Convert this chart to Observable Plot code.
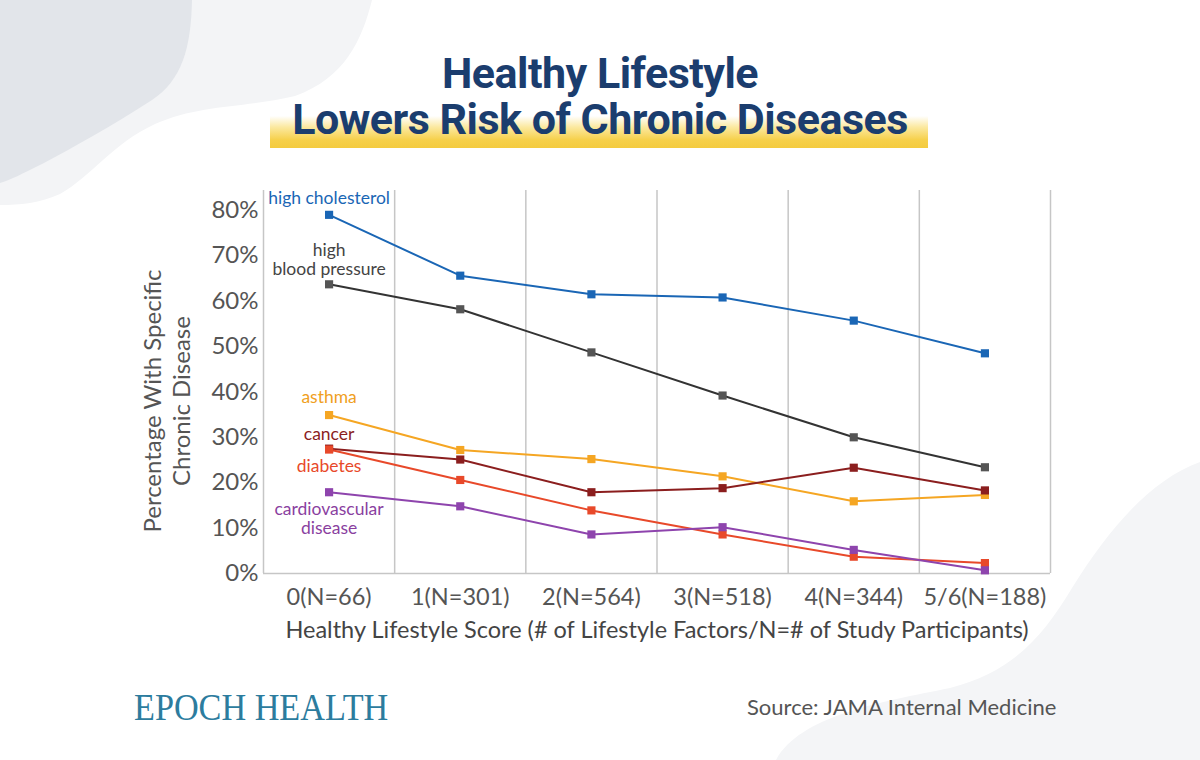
<!DOCTYPE html>
<html>
<head>
<meta charset="utf-8">
<script src="https://cdn.jsdelivr.net/npm/d3@7"></script>
<script src="https://cdn.jsdelivr.net/npm/@observablehq/plot@0.6"></script>
<style>
  html, body { margin: 0; padding: 0; background: #fff; }
  #page { position: relative; width: 1200px; height: 760px; overflow: hidden; background: #fff; font-family: Lato, "Noto Sans", sans-serif; }
  #deco { position: absolute; left: 0; top: 0; z-index: 0; }
  #bar { position: absolute; left: 270px; top: 116px; width: 658px; height: 32px; z-index: 1;
         background: linear-gradient(to bottom, rgba(248,214,80,0) 0%, rgba(248,214,80,0.55) 35%, #f6d04a 75%, #f4cb3e 100%); }
  #title { position: absolute; left: 0; top: 50px; width: 1200px; text-align: center; z-index: 2;
           font-family: Roboto, "Noto Sans", sans-serif; font-weight: 700; font-size: 43px; line-height: 46px;
           letter-spacing: -0.5px; color: #1b3d6e; }
  #chart { position: absolute; left: 0; top: 170px; z-index: 3; }
  #brand { position: absolute; left: 134px; top: 686px; z-index: 3; font-family: "Liberation Serif", "DejaVu Serif", serif;
           font-size: 38px; line-height: 42px; color: #2c7c9e; transform: scaleX(0.9); transform-origin: left center; white-space: nowrap; }
  #source { position: absolute; left: 747px; top: 694px; z-index: 3; font-family: Lato, sans-serif; font-size: 22px; line-height: 26px; color: #555; white-space: nowrap; }
</style>
</head>
<body>
<div id="page">
  <svg id="deco" width="1200" height="760">
    <path d="M190,0 L372,0 C362,40 345,78 295,96 C245,108 200,104 155,124 C112,144 92,176 60,194 C40,203 20,205 0,205 L0,0 Z" fill="#f3f4f6"/>
    <path d="M0,0 L192,0 C191,48 182,80 152,100 C112,126 72,148 42,164 C22,174 10,180 0,183 Z" fill="#e2e5ea"/>
    <path d="M1200,462 C1150,480 1108,530 1072,588 C1042,638 1012,672 950,688 C880,702 800,716 776,760 L1200,760 Z" fill="#f4f5f7"/>
  </svg>
  <div id="bar"></div>
  <div id="title">Healthy Lifestyle<br>Lowers Risk of Chronic Diseases</div>
  <div id="chart"></div>
  <div id="brand">EPOCH HEALTH</div>
  <div id="source">Source: JAMA Internal Medicine</div>
</div>
<script>
// ---- data ----
const categories = ["0(N=66)", "1(N=301)", "2(N=564)", "3(N=518)", "4(N=344)", "5/6(N=188)"];
const seriesNames = ["high cholesterol", "high blood pressure", "asthma", "cancer", "diabetes", "cardiovascular disease"];
const seriesLabels = ["high cholesterol", "high\nblood pressure", "asthma", "cancer", "diabetes", "cardiovascular\ndisease"];
const highCholesterol = [79.0, 65.6, 61.5, 60.8, 55.7, 48.5];
const highBloodPressure = [63.7, 58.2, 48.7, 39.2, 30.0, 23.4];
const asthma = [34.9, 27.2, 25.2, 21.4, 15.9, 17.3];
const cancer = [27.5, 25.1, 17.9, 18.8, 23.3, 18.3];
const diabetes = [27.3, 20.6, 13.9, 8.6, 3.7, 2.3];
const cardiovascularDisease = [17.9, 14.8, 8.6, 10.2, 5.2, 0.7];
const yTicks = [0, 10, 20, 30, 40, 50, 60, 70, 80];
const xTitle = "Healthy Lifestyle Score (# of Lifestyle Factors/N=# of Study Participants)";
const yTitle = "Percentage With Specific\nChronic Disease";

// ---- styles (kept apart from data) ----
const lineColors = ["#1a66b5", "#333333", "#f5a623", "#8b1e1e", "#e8492a", "#8e44ad"];
const markerColors = ["#1a66b5", "#555555", "#f5a623", "#8b1e1e", "#e8492a", "#8e44ad"];
const labelColors = ["#1a66b5", "#444444", "#f0a01e", "#8b1e1e", "#e8492a", "#8a3f9f"];
const labelDy = [-17, -25, -18, -15, 16, 26];

const seriesValues = [highCholesterol, highBloodPressure, asthma, cancer, diabetes, cardiovascularDisease];
const rows = seriesNames.flatMap((name, k) => seriesValues[k].map((v, i) => ({series: name, i, value: v})));
const gridPositions = categories.map((_, i) => i - 0.5).concat([categories.length - 0.5]);

const colorOf = (arr) => (d) => arr[seriesNames.indexOf(d.series)];

const chart = Plot.plot({
  width: 1200,
  height: 490,
  marginLeft: 263,
  marginRight: 150,
  marginTop: 20,
  marginBottom: 87,
  style: {fontFamily: "Lato, 'Noto Sans', sans-serif", fontSize: "23px", color: "#555", background: "transparent", overflow: "visible"},
  x: {domain: [-0.5, categories.length - 0.5]},
  y: {domain: [0, 84.36]},
  marks: [
    Plot.ruleX(gridPositions, {stroke: "#c6c6c6", strokeWidth: 1.5}),
    Plot.ruleY([0], {stroke: "#c6c6c6", strokeWidth: 1.5}),
    Plot.axisY({ticks: yTicks, tickFormat: d => d + "%", tickSize: 0, tickPadding: 5, fontSize: 24, label: null}),
    Plot.axisX({ticks: categories.map((_, i) => i), tickFormat: i => categories[i], tickSize: 0, tickPadding: 15, fontSize: 23.5, label: null}),
    ...seriesNames.map((name, k) => Plot.line(rows.filter(r => r.series === name), {x: "i", y: "value", stroke: lineColors[k], strokeWidth: 2})),
    Plot.dot(rows, {x: "i", y: "value", symbol: "square", r: 4.6, fill: colorOf(markerColors)}),
    ...seriesNames.map((name, k) => Plot.text([rows.find(r => r.series === name && r.i === 0)], {
      x: "i", y: "value", text: () => seriesLabels[k], fill: labelColors[k], dy: labelDy[k],
      fontSize: 17.5, lineHeight: 1.12, textAnchor: "middle", lineAnchor: "middle"
    })),
    Plot.text([xTitle], {frameAnchor: "bottom", dy: 57, fontSize: 23.5, fill: "#444", textAnchor: "middle", lineAnchor: "middle"}),
    Plot.text([yTitle], {frameAnchor: "left", dx: -97, dy: 19, rotate: -90, fontSize: 24, fill: "#555", textAnchor: "middle", lineAnchor: "middle", lineHeight: 1.17})
  ]
});
document.getElementById("chart").appendChild(chart);
</script>
</body>
</html>
